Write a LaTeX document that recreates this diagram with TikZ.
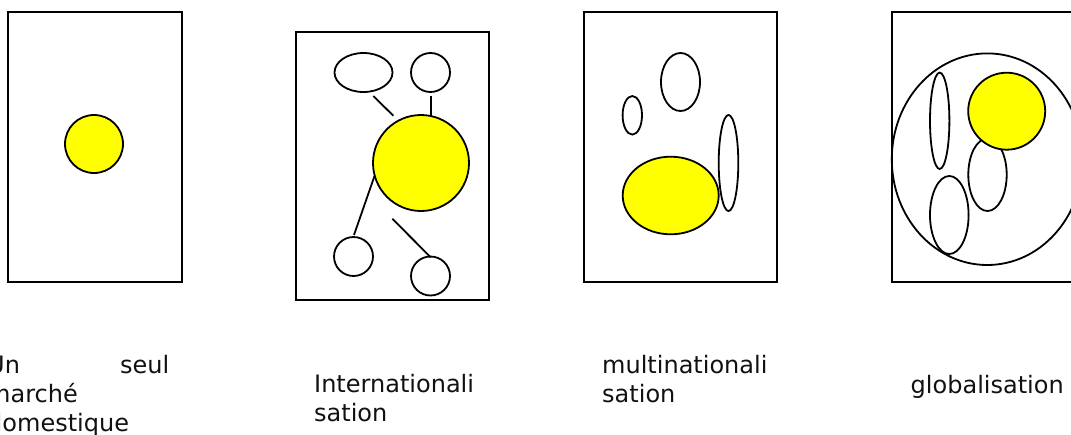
\documentclass[tikz,border=0pt]{standalone}
\usepackage{fontspec}
\setmainfont{DejaVu Sans}
\usetikzlibrary{shapes.geometric}
\definecolor{pureyellow}{RGB}{255,255,0}
\definecolor{ink}{RGB}{17,17,17}
\begin{document}
\begin{tikzpicture}[x=1pt,y=-1pt,
  frame/.style={draw,line width=1.9pt},
  blob/.style={draw,ellipse,line width=1.8pt,inner sep=0pt,outer sep=0pt},
  sz/.style 2 args={minimum width=#1pt,minimum height=#2pt},
  yel/.style={blob,fill=pureyellow},
  link/.style={line width=1.8pt},
  lbl/.style={anchor=base west,inner sep=0pt,text=ink,font=\fontsize{24}{29}\selectfont}]
\useasboundingbox (0,0) rectangle (1071,434);

% Panel 1
\draw[frame] (8,12) rectangle (182,282);
\node[yel,sz={58}{58}] (dom) at (94,144) {};
\node[lbl] (t1) at (-13,373) {\begin{tabular}[t]{@{}l@{}}\makebox[182pt][s]{Un\hfill seul}\\marché\\domestique\end{tabular}};

% Panel 2
\draw[frame] (296,32) rectangle (489,300);
\node[blob,sz={58}{39}] (ie1) at (363.5,72.5) {};
\node[blob,sz={39}{39}] (ic1) at (430.5,72.5) {};
\node[yel,sz={96}{96}] (ibig) at (421,163) {};
\node[blob,sz={39}{39}] (ic2) at (353.5,256.5) {};
\node[blob,sz={39}{39}] (ic3) at (430.5,276) {};
\coordinate (l1a) at (373.3,96);   \coordinate (l1b) at (393.3,115.7);
\coordinate (l2a) at (431,96);     \coordinate (l2b) at (431,115.7);
\coordinate (l3a) at (374.5,176);  \coordinate (l3b) at (354,235);
\coordinate (l4a) at (392.3,218.7);\coordinate (l4b) at (430.7,257.3);
\draw[link] (l1a) -- (l1b);
\draw[link] (l2a) -- (l2b);
\draw[link] (l3a) -- (l3b);
\draw[link] (l4a) -- (l4b);
\node[lbl] (t2) at (314,392.7) {\begin{tabular}[t]{@{}l@{}}Internationali\\sation\end{tabular}};

% Panel 3
\draw[frame] (584,12) rectangle (777,282);
\node[blob,sz={39}{58}] (me1) at (680.5,82) {};
\node[blob,sz={19.4}{38.6}] (me2) at (632.3,115.3) {};
\node[blob,sz={19.6}{96}] (me3) at (728.5,163) {};
\node[yel,sz={96}{77.6}] (mbig) at (670.7,195.5) {};
\node[lbl] (t3) at (602,373) {\begin{tabular}[t]{@{}l@{}}multinationali\\sation\end{tabular}};

% Panel 4
\draw[frame] (892,12) rectangle (1085,282);
\node[blob,sz={191}{211.6}] (gworld) at (987.3,159.2) {};
\node[blob,sz={19.4}{96.4}] (ge1) at (939.7,120.8) {};
\node[blob,sz={38.4}{72.6}] (ge2) at (987.5,174.7) {};
\node[blob,sz={38.6}{78}] (ge3) at (949.3,215) {};
\node[yel,sz={77}{77}] (gbig) at (1006.7,111.2) {};
\node[lbl] (t4) at (910.5,393) {globalisation};
\end{tikzpicture}
\end{document}
